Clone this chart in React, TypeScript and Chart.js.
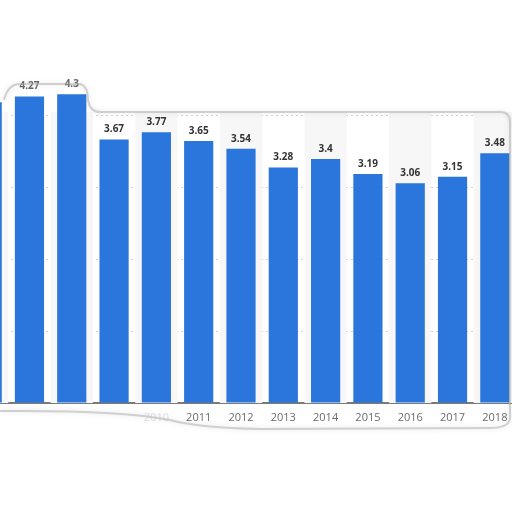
import { useEffect, useRef } from "react";
import { Chart, registerables } from "chart.js";

Chart.register(...registerables);

const years = [
  "2006", "2007", "2008", "2009", "2010", "2011", "2012",
  "2013", "2014", "2015", "2016", "2017", "2018",
];
const values = [4.19, 4.27, 4.3, 3.67, 3.77, 3.65, 3.54, 3.28, 3.4, 3.19, 3.06, 3.15, 3.48];
const yTicks = [0, 1, 2, 3, 4, 5];

const BLUE = "#2a76dc";

// light bands behind every other year + the bent frame of the screenshot
const backdrop = {
  id: "backdrop",
  beforeDatasetsDraw(chart: any) {
    const { ctx, scales } = chart;
    const x = scales.x;
    const y = scales.y;
    const step = x.getPixelForValue(1) - x.getPixelForValue(0);
    const top = 112;
    ctx.save();
    ctx.fillStyle = "#f7f7f7";
    years.forEach((yr, i) => {
      if (Number(yr) % 2 === 0) {
        const cx = x.getPixelForValue(i);
        ctx.fillRect(cx - step / 2, top, step, y.getPixelForValue(0) - top);
      }
    });
    ctx.restore();
  },
  afterDraw(chart: any) {
    const { ctx } = chart;
    const off = chart.canvas.offsetLeft;
    ctx.save();
    ctx.translate(-off, 0);
    ctx.strokeStyle = "rgba(170,170,170,0.5)";
    ctx.lineWidth = 2;
    ctx.shadowColor = "rgba(130,130,130,0.45)";
    ctx.shadowBlur = 5;
    ctx.beginPath();
    ctx.moveTo(4, 100);
    ctx.quadraticCurveTo(8, 84, 20, 84);
    ctx.lineTo(80, 84);
    ctx.quadraticCurveTo(88, 86, 88, 100);
    ctx.quadraticCurveTo(90, 112, 100, 112);
    ctx.lineTo(502, 112);
    ctx.quadraticCurveTo(510, 113, 510, 122);
    ctx.lineTo(510, 418);
    ctx.quadraticCurveTo(509, 428, 490, 428);
    ctx.lineTo(260, 429);
    ctx.quadraticCurveTo(200, 428, 170, 420);
    ctx.quadraticCurveTo(120, 410, 0, 411);
    ctx.stroke();
    ctx.restore();
  },
};

const valueLabels = {
  id: "valueLabels",
  afterDatasetsDraw(chart: any) {
    const { ctx } = chart;
    const meta = chart.getDatasetMeta(0);
    ctx.save();
    ctx.font = "bold 10px 'Open Sans'";
    ctx.textAlign = "center";
    ctx.textBaseline = "bottom";
    meta.data.forEach((bar: any, i: number) => {
      ctx.fillStyle = i < 3 ? "#666" : "#333";
      ctx.fillText(String(values[i]), bar.x, bar.y - 5);
    });
    ctx.restore();
  },
};

export default function App() {
  const canvasRef = useRef<HTMLCanvasElement>(null);

  useEffect(() => {
    if (!canvasRef.current) return;
    const chart = new Chart(canvasRef.current, {
      type: "bar",
      data: {
        labels: years,
        datasets: [
          {
            data: values,
            backgroundColor: BLUE,
            barPercentage: 0.69,
            categoryPercentage: 1,
          },
        ],
      },
      options: {
        responsive: false,
        animation: false,
        layout: { padding: { top: 44, left: 0, right: 0, bottom: 0 } },
        plugins: {
          legend: { display: false },
          tooltip: { enabled: false },
        },
        scales: {
          x: {
            grid: { display: false, drawTicks: false },
            border: { color: "#7a7a7a", width: 2 },
            ticks: {
              padding: 8,
              font: { family: "'Open Sans'", size: 11 },
              color: (c: any) =>
                c.index < 4 ? "rgba(0,0,0,0)" : c.index === 4 ? "#e0e0e0" : "#6a6a6a",
            },
            afterFit: (axis: any) => {
              axis.height = 109;
            },
          },
          y: {
            display: true,
            min: yTicks[0],
            max: yTicks[yTicks.length - 1],
            afterBuildTicks: (axis: any) => {
              axis.ticks = yTicks.map((v) => ({ value: v }));
            },
            ticks: { display: false },
            border: { display: false, dash: [2, 3] },
            grid: {
              drawTicks: false,
              color: (c: any) =>
                c.tick.value > 0 && c.tick.value < 5 ? "#d4d4d4" : "rgba(0,0,0,0)",
            },
            afterFit: (axis: any) => {
              axis.width = 0;
            },
          },
        },
      },
      plugins: [backdrop, valueLabels],
    });
    return () => chart.destroy();
  }, []);

  return (
    <div
      style={{
        position: "fixed",
        left: 0,
        top: 0,
        width: 512,
        height: 512,
        overflow: "hidden",
        background: "#fff",
      }}
    >
      <canvas
        ref={canvasRef}
        width={550}
        height={512}
        style={{ position: "absolute", left: -34, top: 0 }}
      />
    </div>
  );
}
